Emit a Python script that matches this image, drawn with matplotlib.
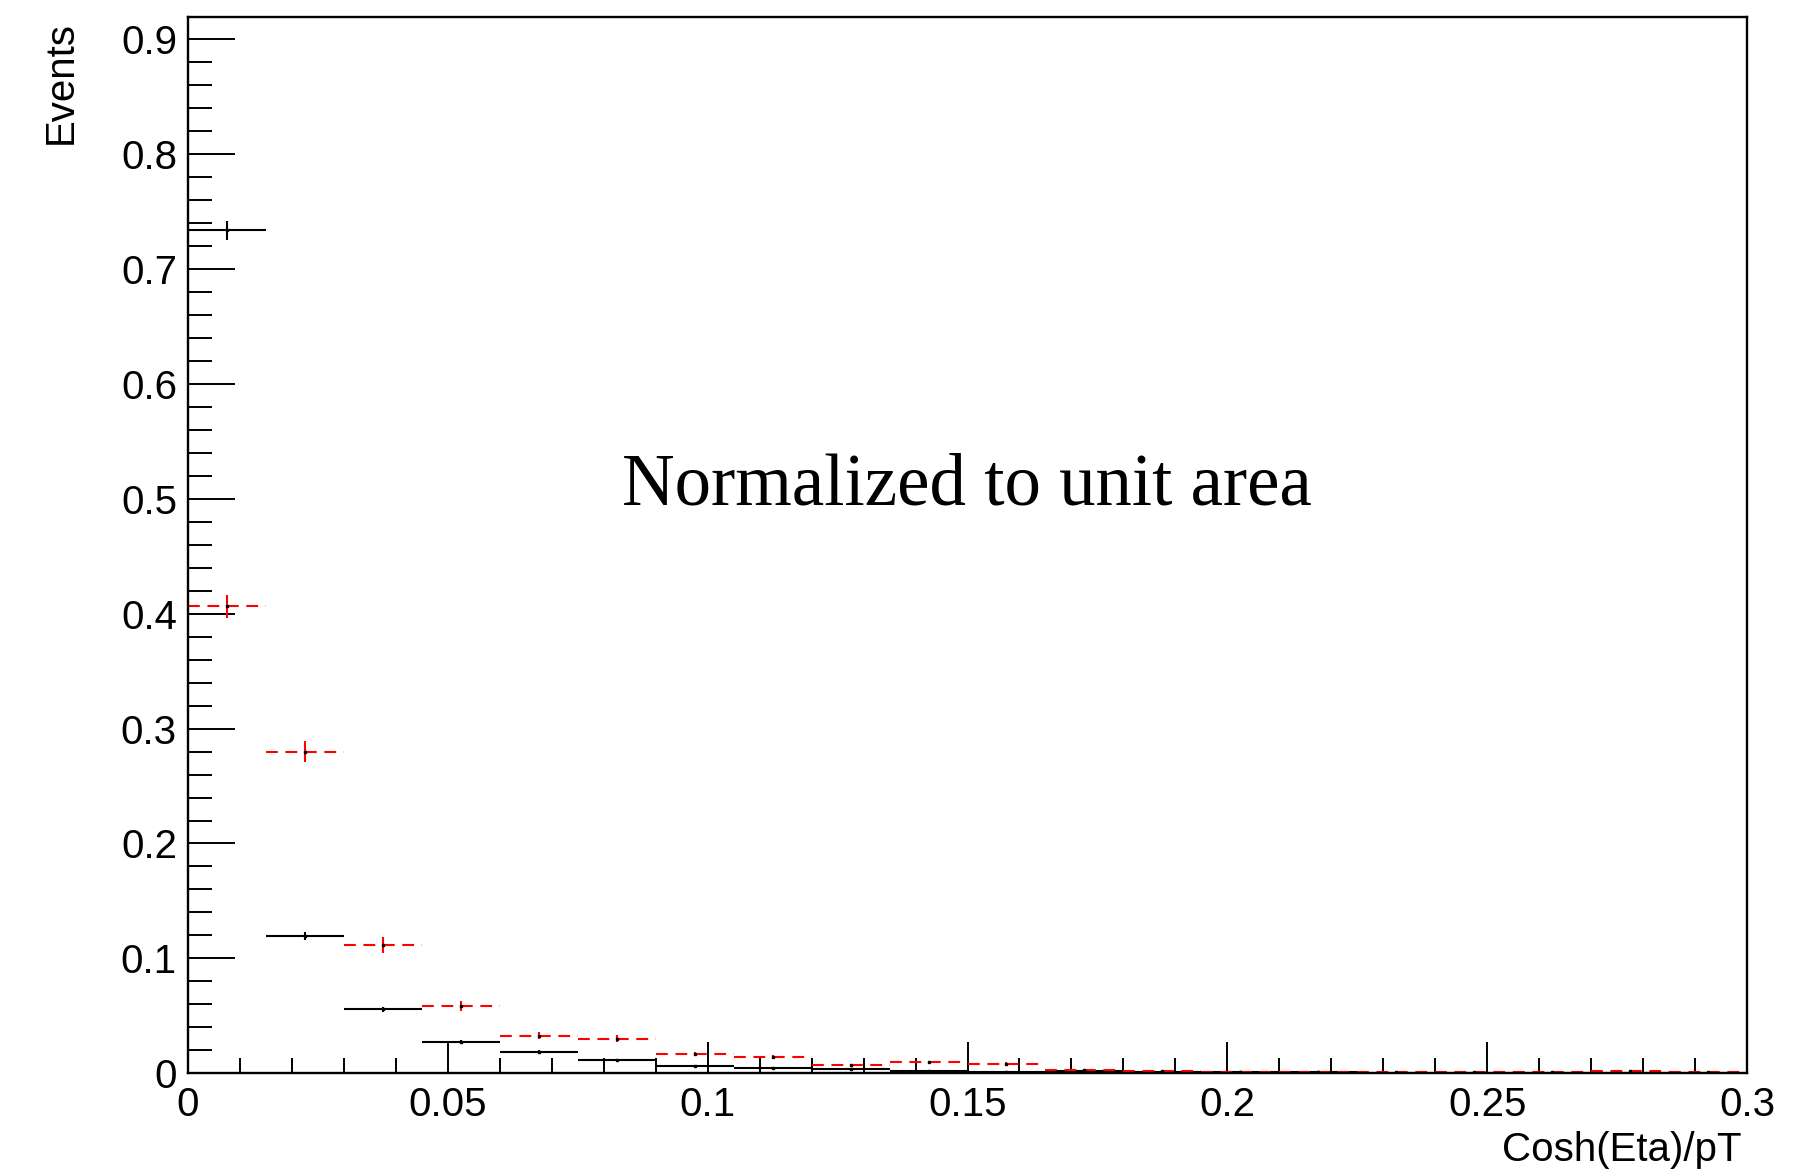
import numpy as np
import matplotlib
matplotlib.use('Agg')
import matplotlib.pyplot as plt
from matplotlib.ticker import MultipleLocator, FuncFormatter

plt.rcParams['font.family'] = ['Liberation Sans', 'DejaVu Sans']
plt.rcParams['lines.scale_dashes'] = False

# 20 bins of width 0.015 between 0 and 0.3
bin_edges = np.linspace(0.0, 0.3, 21)

# black histogram (solid)
black_vals = [0.7336, 0.1195, 0.0555, 0.0270, 0.0188, 0.0117, 0.0067, 0.0046,
              0.0037, 0.0016, 0.0012, 0.0018, 0.0011, 0.0009, 0.0009, 0.0006,
              0.0005, 0.0005, 0.0005, 0.0004]
black_err = [0.0080, 0.0033, 0.0022, 0.0016, 0.0013, 0.0010, 0.0008, 0.0007,
             0.0006, 0.0004, 0.0003, 0.0004, 0.0003, 0.0003, 0.0003, 0.0002,
             0.0002, 0.0002, 0.0002, 0.0001]

# red histogram (dashed)
red_vals = [0.4066, 0.2797, 0.1117, 0.0588, 0.0326, 0.0302, 0.0167, 0.0139,
            0.0070, 0.0094, 0.0082, 0.0029, 0.0018, 0.0015, 0.0013, 0.0009,
            0.0009, 0.0009, 0.0016, 0.0008]
red_err = [0.0100, 0.0092, 0.0067, 0.0042, 0.0030, 0.0029, 0.0020, 0.0018,
           0.0013, 0.0015, 0.0014, 0.0008, 0.0006, 0.0006, 0.0005, 0.0003,
           0.0003, 0.0003, 0.0005, 0.0003]

centers = 0.5 * (bin_edges[:-1] + bin_edges[1:])
half_width = 0.5 * (bin_edges[1] - bin_edges[0])

fig = plt.figure(figsize=(17.94, 11.75), dpi=100)
ax = fig.add_axes([0.1048, 0.0866, 0.8690, 0.8989])

eb_k = ax.errorbar(centers, black_vals, xerr=half_width, yerr=black_err,
                   fmt='none', ecolor='black', elinewidth=1.5, capsize=0)
eb_r = ax.errorbar(centers, red_vals, xerr=half_width, yerr=red_err,
                   fmt='none', ecolor='red', elinewidth=1.5, capsize=0)
eb_r[2][0].set_linestyle((0, (8.5, 5.5)))
ax.plot(centers, black_vals, 's', ms=2, color='black')
ax.plot(centers, red_vals, 's', ms=2, color='black')

ax.set_xlim(0, 0.3)
ax.set_ylim(0, 0.9194)

ax.xaxis.set_major_locator(MultipleLocator(0.05))
ax.xaxis.set_minor_locator(MultipleLocator(0.01))
ax.yaxis.set_major_locator(MultipleLocator(0.1))
ax.yaxis.set_minor_locator(MultipleLocator(0.02))
fmt = FuncFormatter(lambda v, p: '%g' % round(v, 4))
ax.xaxis.set_major_formatter(fmt)
ax.yaxis.set_major_formatter(fmt)

ax.tick_params(axis='both', which='both', direction='in', width=1.4,
               labelsize=29, top=False, right=False)
ax.tick_params(axis='y', which='major', length=34, pad=8)
ax.tick_params(axis='y', which='minor', length=17)
ax.tick_params(axis='x', which='major', length=22, pad=9)
ax.tick_params(axis='x', which='minor', length=11)
for s in ax.spines.values():
    s.set_linewidth(1.7)

fig.text(60.6 / 1794, 1 - 20.6 / 1175, 'Events', rotation=90,
         ha='center', va='top', fontsize=29)
fig.text(1741 / 1794, 1 - 1161 / 1175, 'Cosh(Eta)/pT',
         ha='right', va='baseline', fontsize=29)

ax.text(0.1499, 0.4949, 'Normalized to unit area', ha='center', va='baseline',
        fontsize=52.5, family=['Liberation Serif', 'DejaVu Serif'])

fig.savefig('out.png', dpi=100)
plt.close(fig)
